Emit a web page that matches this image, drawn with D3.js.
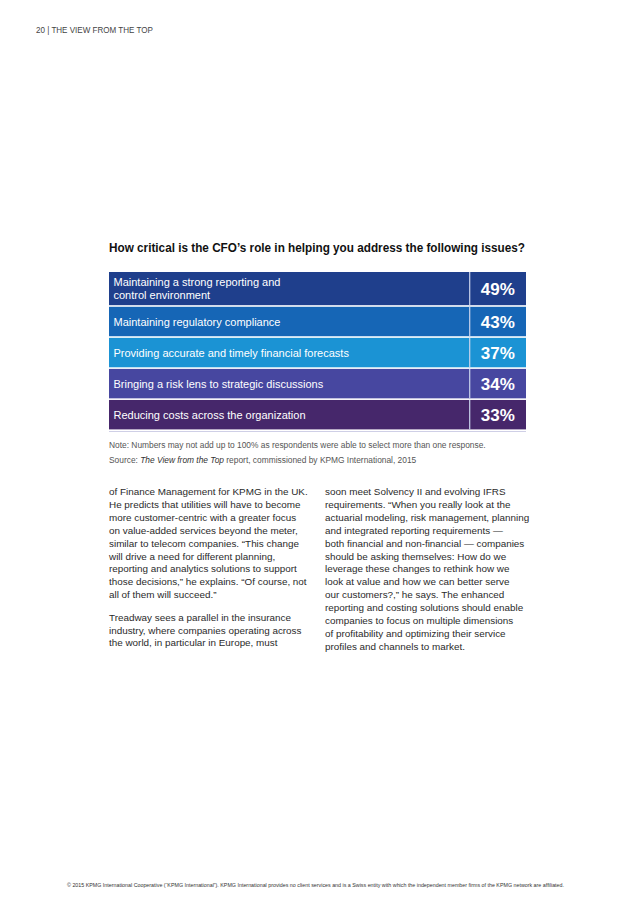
<!DOCTYPE html>
<html><head><meta charset="utf-8">
<script src="https://cdn.jsdelivr.net/npm/d3@7"></script>
<style>body{margin:0;background:#fff}svg{display:block}</style>
</head><body>
<svg id="c" width="636" height="900"></svg>
<script>
// ---- data ----
const categories = [
  "Maintaining a strong reporting and\ncontrol environment",
  "Maintaining regulatory compliance",
  "Providing accurate and timely financial forecasts",
  "Bringing a risk lens to strategic discussions",
  "Reducing costs across the organization"
];
const values = [49, 43, 37, 34, 33];
const valueLabels = values.map(v => v + "%");
const title = "How critical is the CFO\u2019s role in helping you address the following issues?";
const header = "20 | THE VIEW FROM THE TOP";
const noteText = "Note: Numbers may not add up to 100% as respondents were able to select more than one response.";
const sourceItalic = "The View from the Top";
const sourceRest = " report, commissioned by KPMG International, 2015";
const leftColumn = [
  ["of Finance Management for KPMG in the UK.",
   "He predicts that utilities will have to become",
   "more customer-centric with a greater focus",
   "on value-added services beyond the meter,",
   "similar to telecom companies. \u201CThis change",
   "will drive a need for different planning,",
   "reporting and analytics solutions to support",
   "those decisions,\u201D he explains. \u201COf course, not",
   "all of them will succeed.\u201D"],
  ["Treadway sees a parallel in the insurance",
   "industry, where companies operating across",
   "the world, in particular in Europe, must"]
];
const rightColumn = [
  ["soon meet Solvency II and evolving IFRS",
   "requirements. \u201CWhen you really look at the",
   "actuarial modeling, risk management, planning",
   "and integrated reporting requirements \u2014",
   "both financial and non-financial \u2014 companies",
   "should be asking themselves: How do we",
   "leverage these changes to rethink how we",
   "look at value and how we can better serve",
   "our customers?,\u201D he says. The enhanced",
   "reporting and costing solutions should enable",
   "companies to focus on multiple dimensions",
   "of profitability and optimizing their service",
   "profiles and channels to market."]
];
const footer = "\u00A9 2015 KPMG International Cooperative (\u201CKPMG International\u201D). KPMG International provides no client services and is a Swiss entity with which the independent member firms of the KPMG network are affiliated.";

// ---- styles ----
const rowColors = ["#1f3f8c", "#1666b6", "#1b93d4", "#4747a0", "#46276b"];
const FONT = "'Liberation Sans', Arial, sans-serif";

const svg = d3.select("#c");

// header
svg.append("text").attr("x", 36).attr("y", 33)
  .attr("font-family", FONT).attr("font-size", 8.2).attr("fill", "#444")
  .attr("textLength", 117).attr("lengthAdjust", "spacingAndGlyphs")
  .text(header);

// title
svg.append("text").attr("x", 109).attr("y", 251.5)
  .attr("font-family", FONT).attr("font-size", 13).attr("font-weight", "bold").attr("fill", "#111")
  .attr("textLength", 416).attr("lengthAdjust", "spacingAndGlyphs")
  .text(title);

// table rows: layout via scales
const lines = categories.map(c => c.split("\n"));
const units = lines.map(l => 1 + 0.12 * (l.length - 1));
const cum = [0]; units.forEach((u, i) => cum.push(cum[i] + u));
const y = d3.scaleLinear().domain([0, cum[cum.length - 1]]).range([272, 431]);
const x = d3.scaleLinear().domain([0, 1]).range([109, 526]);
const divider = 0.865;
const gap = 1.6;

const rows = svg.append("g").selectAll("g").data(categories).join("g");

// bottom border
svg.append("line").attr("x1", x(0)).attr("x2", x(1)).attr("y1", y(cum[cum.length-1]) + 0.5).attr("y2", y(cum[cum.length-1]) + 0.5)
  .attr("stroke", "#cfcfe6").attr("stroke-width", 1.2);

rows.append("rect")
  .attr("x", x(0)).attr("width", x(1) - x(0))
  .attr("y", (d, i) => y(cum[i]))
  .attr("height", (d, i) => y(cum[i + 1]) - y(cum[i]) - gap)
  .attr("fill", (d, i) => rowColors[i]);

rows.append("line")
  .attr("x1", x(divider)).attr("x2", x(divider))
  .attr("y1", (d, i) => y(cum[i]))
  .attr("y2", (d, i) => y(cum[i + 1]) - gap)
  .attr("stroke", "#c9d3ec").attr("stroke-width", 1.2);

rows.each(function(d, i) {
  const g = d3.select(this);
  const mid = (y(cum[i]) + y(cum[i + 1]) - gap) / 2;
  const ls = lines[i];
  const lh = 13.5;
  const t = g.append("text")
    .attr("font-family", FONT).attr("font-size", 11).attr("fill", "#fff");
  ls.forEach((l, k) => {
    t.append("tspan").attr("x", 113.5)
      .attr("y", mid + 4 + (k - (ls.length - 1) / 2) * lh)
      .text(l);
  });
  g.append("text")
    .attr("x", (x(divider) + x(1)) / 2).attr("y", mid + 6.2)
    .attr("text-anchor", "middle")
    .attr("font-family", FONT).attr("font-size", 17).attr("font-weight", "bold").attr("fill", "#fff")
    .text(valueLabels[i]);
});

// note and source
svg.append("text").attr("x", 109).attr("y", 447.5)
  .attr("font-family", FONT).attr("font-size", 8.4).attr("fill", "#555")
  .text(noteText);
const src = svg.append("text").attr("x", 109).attr("y", 463)
  .attr("font-family", FONT).attr("font-size", 8.4).attr("fill", "#555");
src.append("tspan").text("Source: ");
src.append("tspan").attr("font-style", "italic").attr("fill", "#333").text(sourceItalic);
src.append("tspan").text(sourceRest);

// body columns
function column(paras, x0, y0) {
  const pitch = 12.9, paraGap = 9.5;
  let yy = y0;
  const t = svg.append("text").attr("font-family", FONT).attr("font-size", 9.9).attr("fill", "#2a2a2a");
  paras.forEach((p, pi) => {
    p.forEach(line => {
      t.append("tspan").attr("x", x0).attr("y", yy).text(line);
      yy += pitch;
    });
    yy += paraGap;
  });
}
column(leftColumn, 109, 495);
column(rightColumn, 325, 495);

// footer
svg.append("text").attr("x", 67).attr("y", 887)
  .attr("font-family", FONT).attr("font-size", 5).attr("fill", "#333")
  .attr("textLength", 497).attr("lengthAdjust", "spacingAndGlyphs")
  .text(footer);
</script>
</body></html>
